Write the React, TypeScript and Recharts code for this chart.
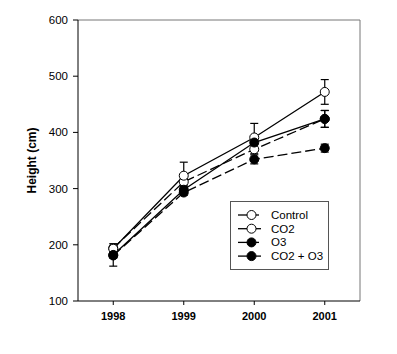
import { CartesianGrid, ErrorBar, Line, LineChart, ReferenceLine, XAxis, YAxis } from 'recharts';

const years = [1998, 1999, 2000, 2001];
const control = [194, 312, 370, 424];
const controlErr = [5, 6, 8, 15];
const co2 = [193, 323, 391, 472];
const co2Err = [5, 24, 25, 22];
const o3 = [181, 293, 352, 372];
const o3Err = [5, 5, 8, 7];
const co2o3 = [182, 298, 382, 424];
const co2o3Err = [20, 6, 10, 15];
const yTicks = [100, 200, 300, 400, 500, 600];

const series = [
  { key: 'control', name: 'Control', filled: false, dashed: true },
  { key: 'co2', name: 'CO2', filled: false, dashed: false },
  { key: 'o3', name: 'O3', filled: true, dashed: true },
  { key: 'co2o3', name: 'CO2 + O3', filled: true, dashed: false },
];

const data = years.map((year, i) => ({
  year,
  control: control[i],
  controlErr: controlErr[i],
  co2: co2[i],
  co2Err: co2Err[i],
  o3: o3[i],
  o3Err: o3Err[i],
  co2o3: co2o3[i],
  co2o3Err: co2o3Err[i],
}));

const FONT = 'Liberation Sans, Arial, sans-serif';

function LegendBox() {
  return (
    <svg
      width={100}
      height={70}
      style={{ position: 'absolute', left: 230, top: 201, fontFamily: FONT }}
    >
      <rect x={0.5} y={0.5} width={98} height={68} fill="white" stroke="#555" strokeWidth={1} />
      {series.map((s, i) => {
        const cy = 14 + i * 13.7;
        return (
          <g key={s.key}>
            <line x1={8} x2={17} y1={cy} y2={cy} stroke="black" strokeWidth={1.3} />
            <line x1={26} x2={s.dashed ? 29 : 31} y1={cy} y2={cy} stroke="black" strokeWidth={1.3} />
            <circle cx={21.5} cy={cy} r={4.5} fill={s.filled ? 'black' : 'white'} stroke="black" strokeWidth={1} />
            <text x={41} y={cy + 4} fontSize={11.5} fill="black">
              {s.name}
            </text>
          </g>
        );
      })}
    </svg>
  );
}

export default function App() {
  return (
    <div style={{ position: 'absolute', left: 0, top: 0, width: 397, height: 354, background: 'white' }}>
      <LineChart
        width={397}
        height={354}
        data={data}
        margin={{ top: 20, right: 37, left: 18, bottom: 23 }}
        style={{ fontFamily: FONT }}
      >
        <CartesianGrid stroke="none" />
        <XAxis
          dataKey="year"
          type="number"
          domain={[1997.5, 2001.5]}
          ticks={years}
          tickSize={4}
          tickMargin={7}
          height={30}
          stroke="black"
          tick={{ fill: 'black', fontSize: 11, fontWeight: 'bold' }}
          tickLine={{ stroke: 'black' }}
        />
        <YAxis
          type="number"
          domain={[100, 600]}
          ticks={yTicks}
          width={60}
          tickSize={5}
          tickMargin={5}
          stroke="black"
          tick={{ fill: 'black', fontSize: 11.5 }}
          label={{
            value: 'Height (cm)',
            angle: -90,
            position: 'insideLeft',
            offset: 14,
            style: { textAnchor: 'middle', fontWeight: 'bold', fontSize: 12, fill: 'black' },
          }}
        />
        <ReferenceLine y={600} stroke="#777" strokeWidth={1} />
        <ReferenceLine x={2001.5} stroke="#777" strokeWidth={1} />
        {series.map((s) => (
          <Line
            key={s.key}
            dataKey={s.key}
            name={s.name}
            stroke="black"
            strokeWidth={1.3}
            strokeDasharray={s.dashed ? '10 4' : undefined}
            dot={{ r: 4.5, fill: s.filled ? 'black' : 'white', stroke: 'black', strokeWidth: 1, strokeDasharray: '' }}
            activeDot={false}
            isAnimationActive={false}
          >
            <ErrorBar dataKey={`${s.key}Err`} direction="y" width={4} stroke="black" strokeWidth={1.2} />
          </Line>
        ))}
      </LineChart>
      <LegendBox />
    </div>
  );
}
